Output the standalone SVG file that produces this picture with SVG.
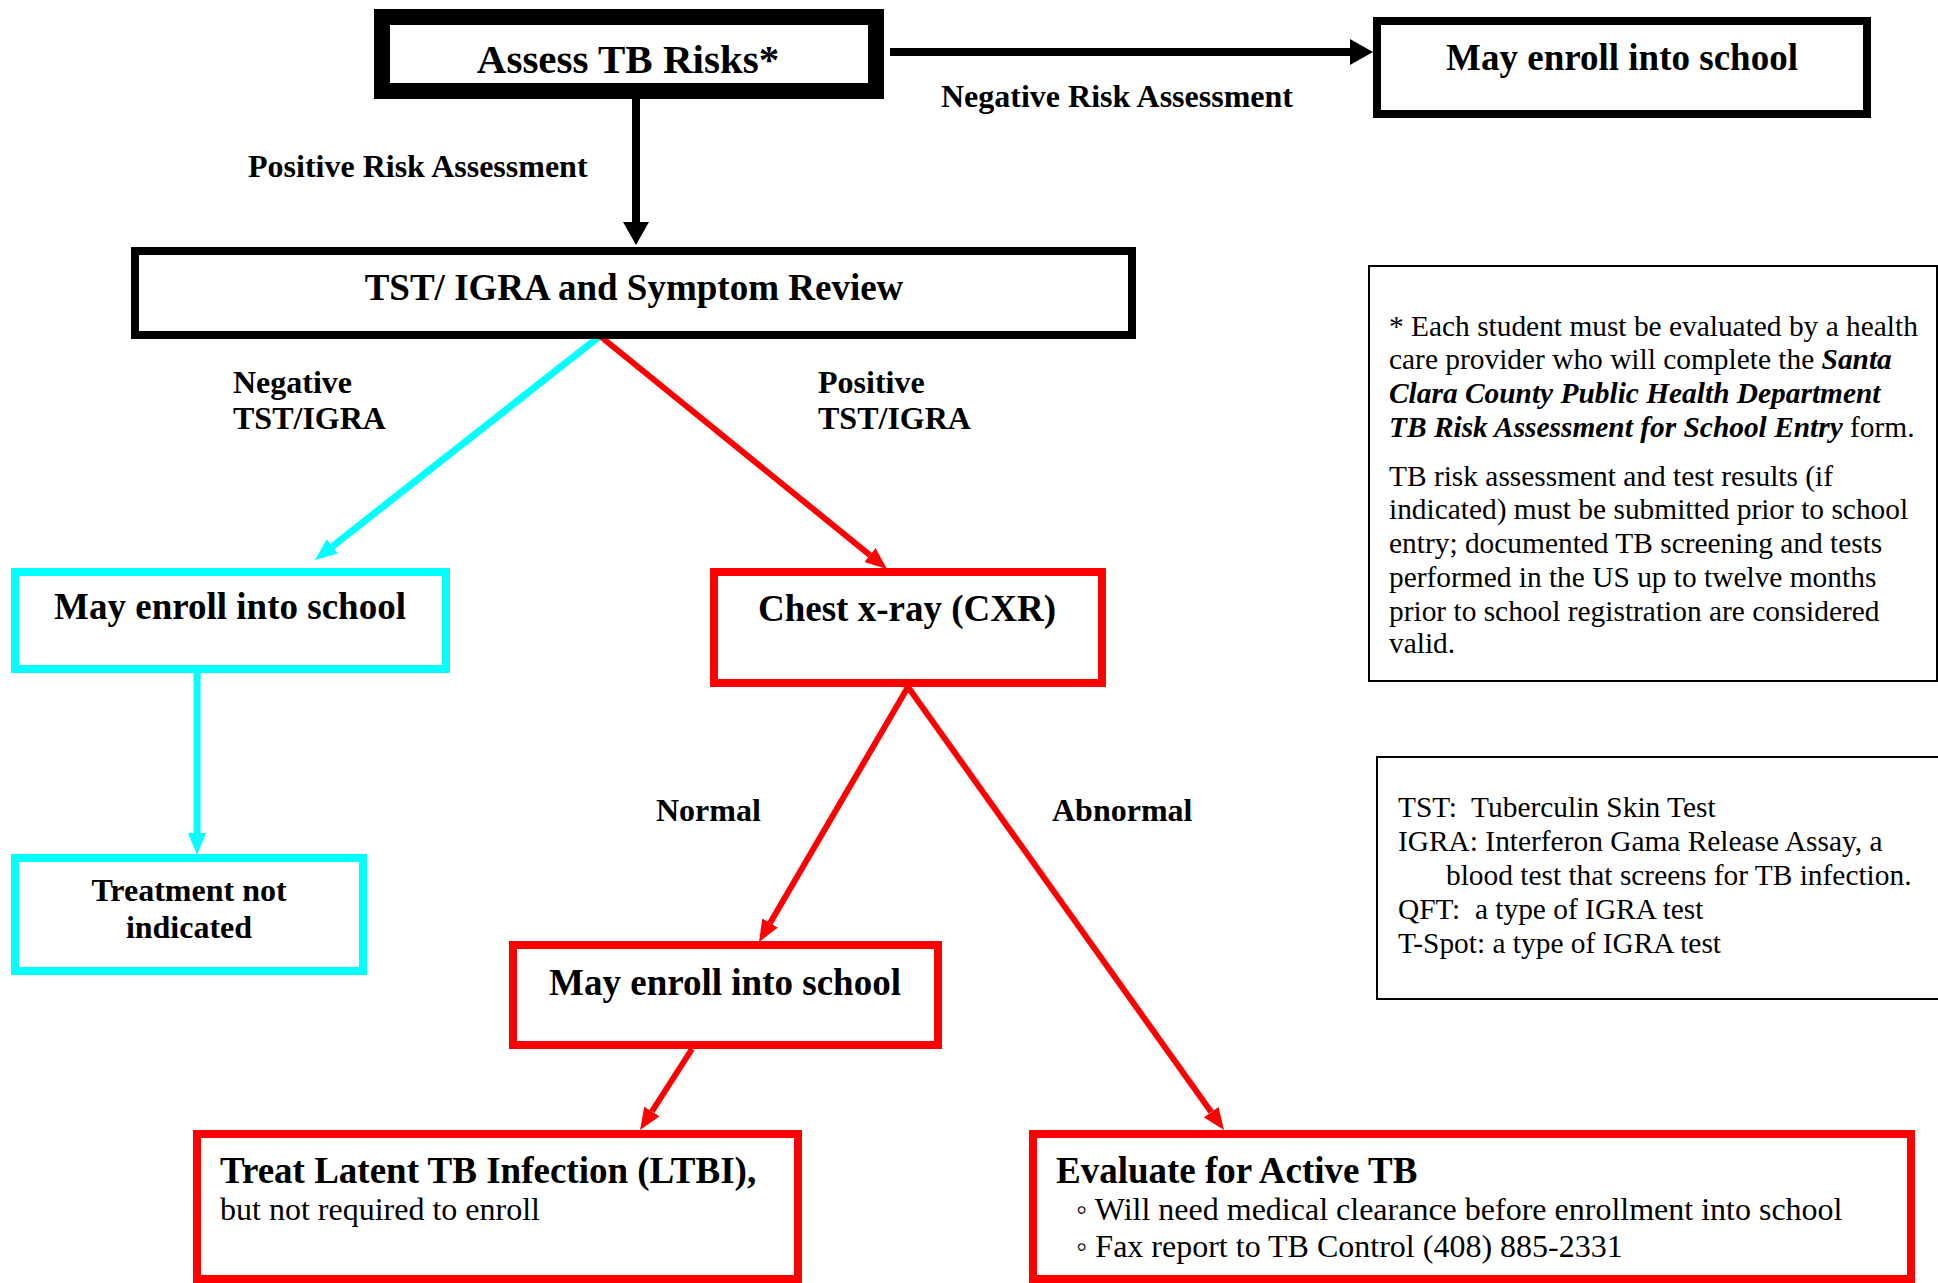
<svg xmlns="http://www.w3.org/2000/svg" width="1938" height="1283" viewBox="0 0 1938 1283">
<style>
text{font-family:"Liberation Serif","Times New Roman",serif;fill:#000}
.b{font-weight:bold}
.t37{font-size:37px;font-weight:bold}
.t32{font-size:32px}
.n{font-size:29.4px;white-space:pre}
.bi{font-weight:bold;font-style:italic}
.k{fill:#fff;stroke:#000}
.r{fill:#fff;stroke:#f00;stroke-width:8}
.c{fill:#fff;stroke:#0ff;stroke-width:8}
.note{fill:#fff;stroke:#000;stroke-width:2}
</style>
<defs>
<marker id="ak" markerUnits="userSpaceOnUse" markerWidth="24" markerHeight="26" refX="0" refY="13" orient="auto" viewBox="0 0 24 26"><path d="M0,0 L23,13 L0,26 z" fill="#000"/></marker>
<marker id="ar" markerUnits="userSpaceOnUse" markerWidth="22" markerHeight="18" refX="0" refY="9" orient="auto" viewBox="0 0 22 18"><path d="M0,0 L22,9 L0,18 z" fill="#f00"/></marker>
<marker id="ac" markerUnits="userSpaceOnUse" markerWidth="22" markerHeight="18" refX="0" refY="9" orient="auto" viewBox="0 0 22 18"><path d="M0,0 L22,9 L0,18 z" fill="#0ff"/></marker>
</defs>
<rect width="1938" height="1283" fill="#fff"/>
<g id="connectors">
<line x1="636" y1="99" x2="636" y2="222" stroke="#000" stroke-width="8" marker-end="url(#ak)"/>
<line x1="890" y1="52" x2="1350" y2="52" stroke="#000" stroke-width="8" marker-end="url(#ak)"/>
<line x1="600" y1="336" x2="332.3" y2="546.4" stroke="#0ff" stroke-width="7" marker-end="url(#ac)"/>
<line x1="600" y1="336" x2="869.9" y2="555.1" stroke="#f00" stroke-width="6" marker-end="url(#ar)"/>
<line x1="197" y1="673" x2="197" y2="833" stroke="#0ff" stroke-width="7" marker-end="url(#ac)"/>
<line x1="908" y1="687" x2="770.1" y2="923" stroke="#f00" stroke-width="6" marker-end="url(#ar)"/>
<line x1="908" y1="687" x2="1211.2" y2="1112.1" stroke="#f00" stroke-width="6" marker-end="url(#ar)"/>
<line x1="692" y1="1049" x2="651.9" y2="1111.5" stroke="#f00" stroke-width="6" marker-end="url(#ar)"/>
<text class="t32 b" x="248" y="177">Positive Risk Assessment</text>
<text class="t32 b" x="941" y="107">Negative Risk Assessment</text>
<text class="t32 b" x="233" y="393">Negative</text>
<text class="t32 b" x="233" y="429">TST/IGRA</text>
<text class="t32 b" x="818" y="393">Positive</text>
<text class="t32 b" x="818" y="429">TST/IGRA</text>
<text class="t32 b" x="656" y="821">Normal</text>
<text class="t32 b" x="1052" y="821">Abnormal</text>
</g>
<g id="assess">
<rect class="k" x="382" y="17" width="494" height="74" stroke-width="16"/>
<text class="b" font-size="41" x="628" y="73" text-anchor="middle">Assess TB Risks*</text>
</g>
<g id="enroll-top">
<rect class="k" x="1377" y="21" width="490" height="93" stroke-width="8"/>
<text class="t37" x="1622" y="70" text-anchor="middle">May enroll into school</text>
</g>
<g id="tst">
<rect class="k" x="135" y="251" width="997" height="84" stroke-width="8"/>
<text class="t37" x="634" y="300" text-anchor="middle">TST/ IGRA and Symptom Review</text>
</g>
<g id="enroll-neg">
<rect class="c" x="15" y="572" width="431" height="97"/>
<text class="t37" x="230" y="619" text-anchor="middle">May enroll into school</text>
</g>
<g id="treatment-not">
<rect class="c" x="15" y="858" width="348" height="113"/>
<text class="t32 b" x="189" y="901" text-anchor="middle">Treatment not</text>
<text class="t32 b" x="189" y="938" text-anchor="middle">indicated</text>
</g>
<g id="cxr">
<rect class="r" x="714" y="572" width="388" height="111"/>
<text class="t37" x="907" y="621" text-anchor="middle">Chest x-ray (CXR)</text>
</g>
<g id="enroll-normal">
<rect class="r" x="513" y="945" width="425" height="100"/>
<text class="t37" x="725" y="995" text-anchor="middle">May enroll into school</text>
</g>
<g id="ltbi">
<rect class="r" x="197" y="1134" width="601" height="145"/>
<text class="t37" x="220" y="1183">Treat Latent TB Infection (LTBI),</text>
<text class="t32" x="220" y="1220">but not required to enroll</text>
</g>
<g id="active">
<rect class="r" x="1033" y="1134" width="878" height="145"/>
<text class="t37" x="1056" y="1183">Evaluate for Active TB</text>
<text class="t32" x="1076" y="1220">◦ Will need medical clearance before enrollment into school</text>
<text class="t32" x="1076" y="1257">◦ Fax report to TB Control (408) 885-2331</text>
</g>
<g id="note-assessment">
<rect class="note" x="1369" y="266" width="568" height="415"/>
<text class="n" x="1389" y="336">* Each student must be evaluated by a health</text>
<text class="n" x="1389" y="369">care provider who will complete the <tspan class="bi">Santa</tspan></text>
<text class="n bi" x="1389" y="403">Clara County Public Health Department</text>
<text class="n" x="1389" y="437"><tspan class="bi">TB Risk Assessment for School Entry</tspan> form.</text>
<text class="n" x="1389" y="486">TB risk assessment and test results (if</text>
<text class="n" x="1389" y="519">indicated) must be submitted prior to school</text>
<text class="n" x="1389" y="553">entry; documented TB screening and tests</text>
<text class="n" x="1389" y="587">performed in the US up to twelve months</text>
<text class="n" x="1389" y="621">prior to school registration are considered</text>
<text class="n" x="1389" y="653">valid.</text>
</g>
<g id="note-glossary">
<rect class="note" x="1377" y="757" width="570" height="242"/>
<text class="n" x="1398" y="817">TST:  Tuberculin Skin Test</text>
<text class="n" x="1398" y="851">IGRA: Interferon Gama Release Assay, a</text>
<text class="n" x="1446" y="885">blood test that screens for TB infection.</text>
<text class="n" x="1398" y="919">QFT:  a type of IGRA test</text>
<text class="n" x="1398" y="953">T-Spot: a type of IGRA test</text>
</g>
</svg>
